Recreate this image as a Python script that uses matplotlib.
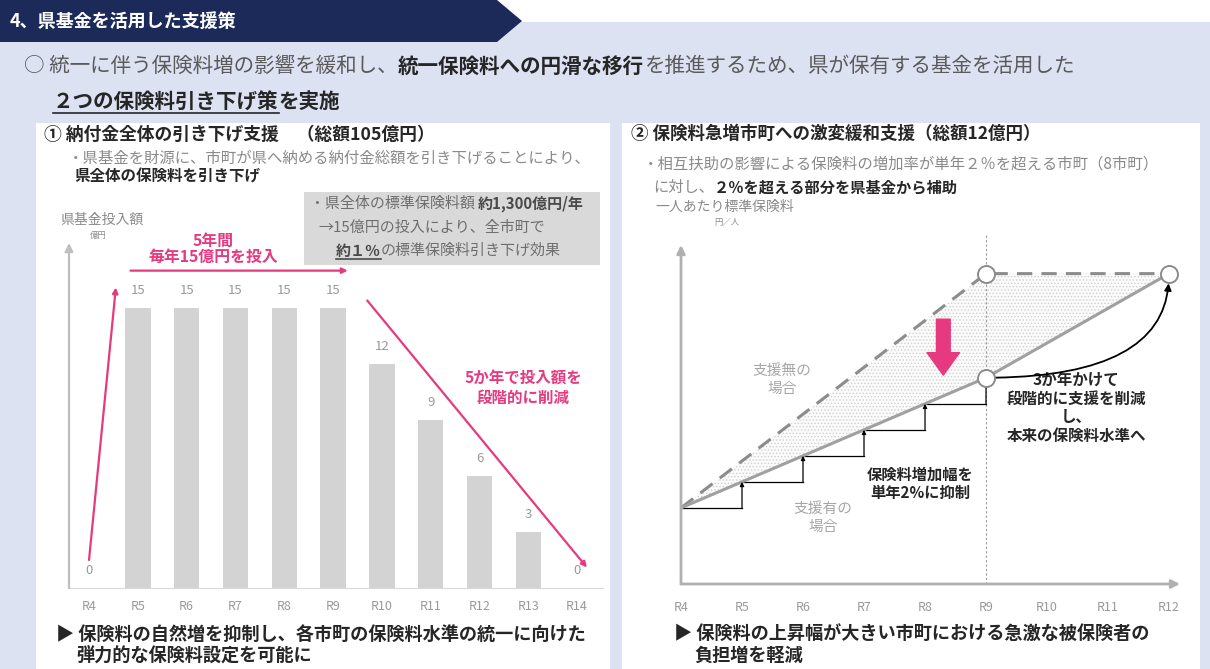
import matplotlib
matplotlib.use("Agg")
import matplotlib.pyplot as plt
from matplotlib.patches import Rectangle, Polygon

plt.rcParams['font.family'] = ['Noto Sans CJK JP', 'DejaVu Sans']
plt.rcParams['hatch.linewidth'] = 0.6

W, H = 1210, 669

# left chart: prefectural fund input per year (億円)
years_left = ['R4', 'R5', 'R6', 'R7', 'R8', 'R9', 'R10', 'R11', 'R12', 'R13', 'R14']
fund_input = [0, 15, 15, 15, 15, 15, 12, 9, 6, 3, 0]

# right chart: standard premium per person (relative level)
years_right = ['R4', 'R5', 'R6', 'R7', 'R8', 'R9', 'R10', 'R11', 'R12']
line_years = ['R4', 'R9', 'R12']
with_support = [100, 110, 118]
without_support = [100, 118, 118]
step_years = ['R4', 'R5', 'R6', 'R7', 'R8', 'R9']
step_values = [100, 102, 104, 106, 108, 110]

PINK = '#e6397f'
GRAY = '#8a8a8a'
DARK = '#262626'
NAVY = '#1c2a5a'
LAVENDER = '#dde2f3'

fig = plt.figure(figsize=(W / 100, H / 100), dpi=100)
bg = fig.add_axes([0, 0, 1, 1])
bg.set_xlim(0, W)
bg.set_ylim(H, 0)
bg.axis('off')
renderer = fig.canvas.get_renderer()

# slide background
bg.add_patch(Rectangle((0, 22), W, H - 22, color=LAVENDER, lw=0))
bg.add_patch(Polygon([(0, 0), (497, 0), (522, 21), (497, 42), (0, 42)], color=NAVY, lw=0))
bg.add_patch(Rectangle((36, 123), 574, H - 123, color='white', lw=0))
bg.add_patch(Rectangle((622, 123), 578, H - 123, color='white', lw=0))
bg.add_patch(Rectangle((304, 192), 296, 73, color='#d9d9d9', lw=0))


def put(x, y, segs, size, underline=()):
    # draw text pieces one after another on a line
    for i, (s, bold, color) in enumerate(segs):
        t = bg.text(x, y, s, fontsize=size, color=color, va='center', ha='left',
                    fontweight='bold' if bold else 'normal')
        w = t.get_window_extent(renderer).width
        if i in underline:
            uy = y + size * 0.78
            bg.plot([x, x + w], [uy, uy], color=color, lw=1.2)
        x += w


bg.text(10, 21, '4、県基金を活用した支援策', fontsize=13, color='white',
        fontweight='bold', va='center')
put(24, 66, [('○ 統一に伴う保険料増の影響を緩和し、', False, '#5a5a5a'),
             ('統一保険料への円滑な移行', True, DARK),
             ('を推進するため、県が保有する基金を活用した', False, '#5a5a5a')], 14.8)
put(53, 101, [('２つの保険料引き下げ策', True, DARK), ('を実施', True, DARK)], 14.8,
    underline=(0,))

# ---- left panel texts
put(44, 135, [('① 納付金全体の引き下げ支援', True, DARK), ('　（総額105億円）', True, DARK)], 12.8)
bg.text(68, 158, '・県基金を財源に、市町が県へ納める納付金総額を引き下げることにより、',
        fontsize=11.1, color=GRAY, va='center')
bg.text(74, 177, '県全体の保険料を引き下げ', fontsize=11.2, color=DARK,
        fontweight='bold', va='center')
put(310, 204, [('・県全体の標準保険料額 ', False, '#6e6e6e'),
               ('約1,300億円/年', True, '#4a4a4a')], 10.8)
bg.text(318, 228, '→15億円の投入により、全市町で', fontsize=10.8, color='#6e6e6e', va='center')
put(336, 251, [('約１％', True, '#4a4a4a'), ('の標準保険料引き下げ効果', False, '#6e6e6e')],
    10.8, underline=(0,))
bg.text(60, 220, '県基金投入額', fontsize=10, color=GRAY, va='center')
bg.text(90, 235, '億円', fontsize=6, color=GRAY, va='center')
bg.text(213, 249, '5年間\n毎年15億円を投入', fontsize=11.4, color=PINK, fontweight='bold',
        ha='center', va='center', linespacing=1.05)
bg.text(523, 388, '5か年で投入額を\n段階的に削減', fontsize=11.2, color=PINK,
        fontweight='bold', ha='center', va='center', linespacing=1.3)
bg.text(56, 634, '▶ 保険料の自然増を抑制し、各市町の保険料水準の統一に向けた', fontsize=13.1,
        color=DARK, fontweight='bold', va='center')
bg.text(76, 655, '弾力的な保険料設定を可能に', fontsize=13.1,
        color=DARK, fontweight='bold', va='center')

# ---- right panel texts
bg.text(631, 134, '② 保険料急増市町への激変緩和支援（総額12億円）', fontsize=12.6,
        color=DARK, fontweight='bold', va='center')
bg.text(643, 164, '・相互扶助の影響による保険料の増加率が単年２％を超える市町（8市町）',
        fontsize=11.1, color=GRAY, va='center')
put(653, 187, [('に対し、', False, GRAY), ('２％を超える部分を県基金から補助', True, DARK)], 11)
bg.text(655, 207, '一人あたり標準保険料', fontsize=10, color=GRAY, va='center')
bg.text(714, 222, '円／人', fontsize=6, color=GRAY, va='center')
bg.text(1004, 327, '県基金により\n引き下げ', fontsize=10.6, color=PINK, fontweight='bold',
        ha='center', va='center', linespacing=1.2)
bg.text(782, 380, '支援無の\n場合', fontsize=10.6, color='#a6a6a6', ha='center', va='center',
        linespacing=1.4)
bg.text(823, 518, '支援有の\n場合', fontsize=10.6, color='#a6a6a6', ha='center', va='center',
        linespacing=1.4)
bg.text(920, 484, '保険料増加幅を\n単年2%に抑制', fontsize=11, color=DARK, fontweight='bold',
        ha='center', va='center', linespacing=1.2)
bg.text(1076, 408, '3か年かけて\n段階的に支援を削減\nし、\n本来の保険料水準へ', fontsize=11.2,
        color=DARK, fontweight='bold', ha='center', va='center', linespacing=1.2)
bg.text(674, 634, '▶ 保険料の上昇幅が大きい市町における急激な被保険者の', fontsize=13.1,
        color=DARK, fontweight='bold', va='center')
bg.text(694, 655, '負担増を軽減', fontsize=13.1, color=DARK, fontweight='bold', va='center')

# ---- left chart
axL = fig.add_axes([69 / W, (H - 588) / H, (603 - 69) / W, (588 - 243) / H])
axL.set_facecolor('none')
xl = range(len(years_left))
axL.bar(xl, fund_input, width=0.52, color='#d3d3d3', zorder=2)
for i, v in zip(xl, fund_input):
    axL.text(i, v + 0.95, str(v), ha='center', va='center', fontsize=9.5, color='#9a9a9a')
axL.set_xlim(-0.41, 10.53)
axL.set_ylim(0, 18.48)
axL.set_xticks(list(xl), years_left)
axL.tick_params(axis='x', length=0, pad=9, labelsize=9, labelcolor='#9a9a9a')
axL.set_yticks([])
for s in ['top', 'right', 'left']:
    axL.spines[s].set_visible(False)
axL.spines['bottom'].set_color('#d9d9d9')
axL.annotate('', xy=(0, 1), xytext=(0, 0), xycoords='axes fraction',
             arrowprops=dict(arrowstyle='-|>', color='#bfbfbf', lw=1.6,
                             mutation_scale=12, shrinkA=0, shrinkB=0))
pink_arrow = dict(arrowstyle='-|>', color=PINK, lw=1.6, mutation_scale=8, shrinkA=0, shrinkB=0)
axL.annotate('', xy=(0.55, 16.1), xytext=(0.0, 1.5), arrowprops=pink_arrow)
axL.annotate('', xy=(5.3, 17.0), xytext=(0.85, 17.0), arrowprops=pink_arrow, annotation_clip=False)
axL.annotate('', xy=(10.2, 1.1), xytext=(5.7, 15.4), arrowprops=pink_arrow)

# ---- right chart
axR = fig.add_axes([681 / W, (H - 584) / H, (1180 - 681) / W, (584 - 245) / H])
axR.set_facecolor('none')
lx = [years_right.index(y) for y in line_years]
axR.fill_between(lx, with_support, without_support, facecolor='#fbfbfb',
                 edgecolor='#cfcfcf', hatch='.....', lw=0, zorder=1)
axR.plot(lx, without_support, color='#8c8c8c', lw=2.2, ls=(0, (5, 3)), zorder=3)
axR.plot(lx, with_support, color='#a0a0a0', lw=2.2, zorder=3)
sx = [years_right.index(y) for y in step_years]
for i in range(len(sx) - 1):
    axR.plot([sx[i], sx[i + 1]], [step_values[i], step_values[i]], color='black', lw=0.9, zorder=2)
    axR.annotate('', xy=(sx[i + 1], step_values[i + 1]), xytext=(sx[i + 1], step_values[i]),
                 arrowprops=dict(arrowstyle='-|>', color='black', lw=0.9, mutation_scale=6,
                                 shrinkA=0, shrinkB=0))
axR.axvline(years_right.index('R9'), ymax=1.03, color='#9a9a9a', lw=0.8, ls=(0, (2, 2)),
            clip_on=False, zorder=1)
axR.scatter([lx[1], lx[1], lx[2]], [without_support[1], with_support[1], with_support[2]],
            s=150, facecolor='white', edgecolor='#8c8c8c', lw=1.4, zorder=5)
axR.annotate('', xy=(lx[2], with_support[2]), xytext=(lx[1], with_support[1]),
             arrowprops=dict(arrowstyle='-|>', color='black', lw=1.3, mutation_scale=10,
                             connectionstyle='angle3,angleA=0,angleB=90',
                             shrinkA=7, shrinkB=7), zorder=4)
axR.annotate('', xy=(4.3, 110.2), xytext=(4.3, 114.5),
             arrowprops=dict(arrowstyle='simple,head_width=1.3,head_length=0.9,tail_width=0.55',
                             color=PINK, mutation_scale=18, shrinkA=0, shrinkB=0))
axR.set_xlim(0, 8.18)
axR.set_ylim(94.15, 120.2)
axR.set_xticks(range(len(years_right)), years_right)
axR.tick_params(axis='x', length=0, pad=12, labelsize=9, labelcolor='#9a9a9a')
axR.set_yticks([])
for s in axR.spines.values():
    s.set_visible(False)
axis_arrow = dict(arrowstyle='-|>', color='#b0b0b0', lw=2, mutation_scale=12, shrinkA=0, shrinkB=0)
axR.annotate('', xy=(0, 1), xytext=(0, 0), xycoords='axes fraction', arrowprops=axis_arrow)
axR.annotate('', xy=(1, 0), xytext=(0, 0), xycoords='axes fraction', arrowprops=axis_arrow)

fig.savefig('out.png', dpi=100)
